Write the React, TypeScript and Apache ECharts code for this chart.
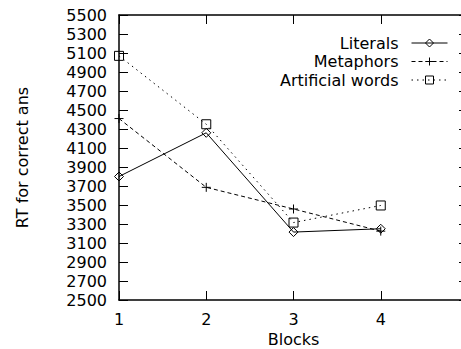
import React, { useEffect, useRef } from "react";
import * as echarts from "echarts";

const blocks = [1, 2, 3, 4];
const literals = [3800, 4260, 3215, 3250];
const metaphors = [4410, 3686, 3458, 3225];
const artificial = [5070, 4350, 3315, 3495];
const seriesNames = ["Literals", "Metaphors", "Artificial words"];

const FONT = "DejaVu Sans";
const PLUS = "path://M0,5L10,5M5,0L5,10";

export default function App() {
  const ref = useRef<HTMLDivElement>(null);
  useEffect(() => {
    const chart = echarts.init(ref.current!, null, { renderer: "svg" });
    const pairs = (vals: number[]) => blocks.map((b, i) => [b, vals[i]]);
    const axisLine = { show: true, lineStyle: { color: "#000", width: 1.5 } };
    const tick = { show: true, inside: true, length: 9, lineStyle: { color: "#000", width: 1 } };
    const markStyle = { color: "rgba(255,255,255,0)", borderColor: "#000", borderWidth: 1 };
    chart.setOption({
      animation: false,
      backgroundColor: "#fff",
      grid: {
        left: 119,
        top: 15,
        right: -7,
        bottom: 49,
        containLabel: false,
        outerBoundsMode: "none",
      },
      legend: {
        orient: "vertical",
        right: 13,
        top: 35,
        padding: 0,
        align: "right",
        itemWidth: 36,
        itemHeight: 10,
        itemGap: 2.5,
        data: seriesNames,
        lineStyle: { width: 1 },
        itemStyle: { borderWidth: 1 },
        textStyle: { fontFamily: FONT, fontSize: 16, color: "#000", lineHeight: 16, padding: [0, 8, 0, 0] },
      },
      xAxis: [
        {
          type: "value",
          min: 1,
          max: 5,
          interval: 1,
          name: "Blocks",
          nameLocation: "middle",
          nameGap: 27,
          nameTextStyle: { fontFamily: FONT, fontSize: 16, color: "#000", lineHeight: 16 },
          axisLine,
          axisTick: tick,
          splitLine: { show: false },
          axisLabel: {
            fontFamily: FONT,
            fontSize: 16,
            color: "#000",
            margin: 11,
            formatter: (v: number) => (v <= 4 ? String(v) : ""),
          },
        },
        {
          type: "value",
          position: "top",
          min: 1,
          max: 5,
          interval: 1,
          axisLine,
          axisTick: tick,
          splitLine: { show: false },
          axisLabel: { show: false },
        },
      ],
      yAxis: [
        {
          type: "value",
          min: 2500,
          max: 5500,
          interval: 200,
          name: "RT for correct ans",
          nameLocation: "middle",
          nameGap: 89,
          nameTextStyle: { fontFamily: FONT, fontSize: 16, color: "#000" },
          axisLine,
          axisTick: tick,
          splitLine: { show: false },
          axisLabel: {
            fontFamily: FONT,
            fontSize: 16,
            color: "#000",
            margin: 12,
            formatter: (v: number) => String(v),
          },
        },
        {
          type: "value",
          position: "right",
          min: 2500,
          max: 5500,
          interval: 200,
          axisLine,
          axisTick: tick,
          splitLine: { show: false },
          axisLabel: { show: false },
        },
      ],
      series: [
        {
          name: seriesNames[0],
          type: "line",
          data: pairs(literals),
          symbol: "diamond",
          symbolSize: [9, 9],
          lineStyle: { color: "#000", width: 1, type: "solid" },
          itemStyle: markStyle,
        },
        {
          name: seriesNames[1],
          type: "line",
          data: pairs(metaphors),
          symbol: PLUS,
          symbolSize: 9,
          lineStyle: { color: "#000", width: 1, type: [4, 3] },
          itemStyle: markStyle,
        },
        {
          name: seriesNames[2],
          type: "line",
          data: pairs(artificial),
          symbol: "rect",
          symbolSize: 9,
          lineStyle: { color: "#000", width: 1, type: [1.5, 4] },
          itemStyle: markStyle,
        },
      ],
    });
    return () => chart.dispose();
  }, []);
  return <div ref={ref} style={{ width: 461, height: 349, position: "fixed", left: 0, top: 0 }} />;
}
